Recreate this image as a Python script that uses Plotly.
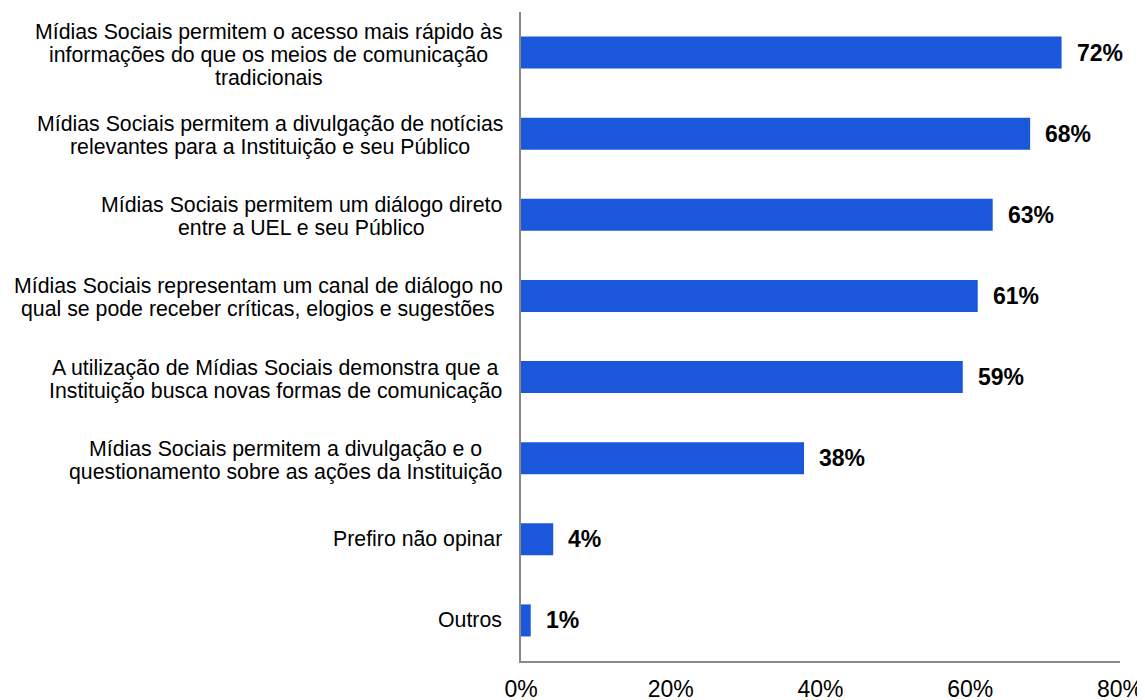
import plotly.graph_objects as go

categories = [
    "Mídias Sociais permitem o acesso mais rápido às<br>informações do que os meios de comunicação<br>tradicionais",
    "Mídias Sociais permitem a divulgação de notícias<br>relevantes para a Instituição e seu Público",
    "Mídias Sociais permitem um diálogo direto<br>entre a UEL e seu Público",
    "Mídias Sociais representam um canal de diálogo no<br>qual se pode receber críticas, elogios e sugestões",
    "A utilização de Mídias Sociais demonstra que a<br>Instituição busca novas formas de comunicação",
    "Mídias Sociais permitem a divulgação e o<br>questionamento sobre as ações da Instituição",
    "Prefiro não opinar",
    "Outros",
]
values = [72.2, 68.0, 63.0, 61.0, 59.0, 37.8, 4.3, 1.3]
tick_vals = [0, 20, 40, 60, 80]
tick_text = ["0%", "20%", "40%", "60%", "80%"]

FONT = "Liberation Sans, Arial, sans-serif"
LABEL_SIZE = 21.3
LINE_STEP = 23  # px between label lines
LABEL_GAP = 19  # px between label block and axis

# Approximate Arial / Liberation Sans advance widths (per 1000 em)
W = {' ': 278, ',': 278, '.': 278, '%': 889}
for ch in "abdeghnopqu": W[ch] = 556
for ch in "cksvxyz": W[ch] = 500
for ch in "ijl": W[ch] = 222
W.update({'f': 278, 't': 278, 'r': 333, 'm': 833, 'w': 722})
for ch in "áàãâéêóõôú": W[ch] = 556
W['í'] = 222
W['ç'] = 500
W.update({'A': 667, 'B': 667, 'C': 722, 'D': 722, 'E': 667, 'F': 611, 'G': 778,
          'H': 722, 'I': 278, 'L': 556, 'M': 833, 'N': 722, 'O': 778, 'P': 667,
          'Q': 778, 'R': 722, 'S': 667, 'T': 611, 'U': 722, 'V': 667, 'W': 944})


def text_width(s, size):
    return sum(W.get(c, 556) for c in s) * size / 1000.0


fig = go.Figure()
fig.add_trace(go.Bar(
    x=values,
    y=list(range(len(categories))),
    orientation="h",
    marker=dict(color="#1A57DB", line=dict(width=0)),
    width=0.395,
    hoverinfo="skip",
))

annotations = []
for idx, (cat, v) in enumerate(zip(categories, values)):
    annotations.append(dict(
        x=v, y=idx, xref="x", yref="y", text=f"{v:.0f}%", showarrow=False,
        xanchor="left", xshift=13, yanchor="middle",
        font=dict(family=FONT, size=23, color="#000000", weight="bold"),
    ))
    lines = cat.split("<br>")
    n = len(lines)
    maxw = max(text_width(s, LABEL_SIZE) for s in lines)
    for i, line in enumerate(lines):
        offset = (i - (n - 1) / 2) * LINE_STEP + (2 if n > 1 else 0)
        annotations.append(dict(
            x=0, y=idx, xref="paper", yref="y", text=line, showarrow=False,
            xanchor="center", xshift=-(LABEL_GAP + maxw / 2),
            yanchor="middle", yshift=-offset,
            font=dict(family=FONT, size=LABEL_SIZE, color="#000000"),
        ))

# page body adds an 8px margin, so the figure is sized/offset to compensate
fig.update_layout(
    width=1137, height=692,
    margin=dict(l=513, r=25, t=4, b=39),
    paper_bgcolor="white", plot_bgcolor="white",
    showlegend=False,
    annotations=annotations,
    xaxis=dict(
        range=[0, 80], tickvals=tick_vals, ticktext=tick_text,
        showgrid=False, zeroline=False, showline=True, linecolor="#888888", linewidth=1.5,
        ticks="", ticklabelstandoff=7, automargin=False,
        tickfont=dict(family=FONT, size=23, color="#000000"),
        fixedrange=True,
    ),
    yaxis=dict(
        range=[len(categories) - 0.5, -0.5], showticklabels=False, showgrid=False,
        zeroline=False, showline=True, linecolor="#888888", linewidth=1.5, ticks="",
        automargin=False, fixedrange=True,
    ),
)

fig.write_html("out.html")
